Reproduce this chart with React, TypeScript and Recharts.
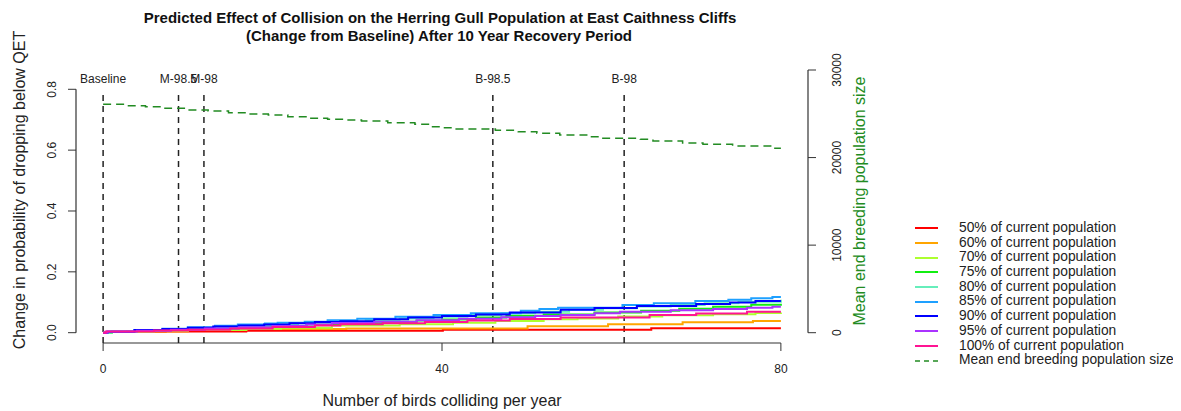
import React from 'react';
import { ComposedChart, Line, XAxis, YAxis, ReferenceLine, ReferenceDot } from 'recharts';

// ---- tick labels ----
const collisionTicks = [0, 40, 80];
const probTicks = [0, 0.2, 0.4, 0.6, 0.8];
const popTicks = [0, 10000, 20000, 30000];

// ---- threshold markers ----
const thresholdNames = ['Baseline', 'M-98.5', 'M-98', 'B-98.5', 'B-98'];
const thresholdValues = [0, 8.9, 11.9, 46, 61.5];

// ---- series (collisions per year, change in probability) ----
const seriesNames = [
  '50% of current population',
  '60% of current population',
  '70% of current population',
  '75% of current population',
  '80% of current population',
  '85% of current population',
  '90% of current population',
  '95% of current population',
  '100% of current population',
];
const seriesColors = ['#FF0000', '#FFA500', '#ADFF2F', '#11EE11', '#66EEBB', '#1EA0FF', '#0000FF', '#AA33FF', '#FF1493'];

const p50: [number, number][] = [[0, 0], [0.5, 0.002], [2.8, 0.0033], [7.4, 0.004], [16.9, 0.0066], [40.1, 0.0099], [64.7, 0.0145], [80, 0.0145]];
const p60: [number, number][] = [[0, 0], [0.5, 0.002], [4, 0.004], [10, 0.009], [16.9, 0.012], [28.7, 0.0135], [50.1, 0.021], [59.6, 0.0276], [68.4, 0.034], [76.7, 0.0385], [80, 0.0385]];
const p70: [number, number][] = [[0, 0], [1, 0.003], [6, 0.006], [10, 0.009], [16.9, 0.013], [21, 0.016], [27, 0.024], [35, 0.028], [41.3, 0.033], [46.3, 0.0385], [52, 0.044], [56, 0.047], [60.8, 0.053], [66, 0.057], [72, 0.061], [77, 0.065], [80, 0.066]];
const p75: [number, number][] = [[0, 0], [1, 0.003], [4, 0.006], [8, 0.01], [12, 0.014], [16, 0.018], [20, 0.022], [24, 0.027], [28, 0.031], [33, 0.036], [37, 0.04], [40, 0.043], [44, 0.05], [47.6, 0.056], [52, 0.06], [58, 0.066], [63.5, 0.072], [68, 0.079], [72, 0.085], [76.5, 0.092], [80, 0.095]];
const p80: [number, number][] = [[0, 0], [1, 0.003], [4, 0.007], [8, 0.011], [11, 0.015], [15, 0.02], [19, 0.025], [23, 0.031], [27, 0.036], [31, 0.041], [35, 0.047], [39, 0.052], [43, 0.058], [47, 0.064], [51, 0.069], [55, 0.075], [59, 0.08], [63, 0.086], [67, 0.091], [71, 0.097], [75, 0.102], [80, 0.108]];
const p85: [number, number][] = [[0, 0], [0.5, 0.003], [3.7, 0.009], [7, 0.013], [10, 0.018], [13.2, 0.023], [15.9, 0.027], [19.1, 0.03], [20.6, 0.033], [23.8, 0.036], [26.5, 0.041], [30, 0.046], [34.5, 0.052], [39, 0.058], [43.4, 0.064], [49.3, 0.072], [51.5, 0.078], [53.7, 0.082], [61.3, 0.091], [65, 0.097], [69.9, 0.104], [73.8, 0.108], [76.5, 0.113], [79, 0.117], [80, 0.117]];
const p90: [number, number][] = [[0, 0], [0.5, 0.003], [3.7, 0.009], [7, 0.012], [10, 0.016], [13, 0.02], [16, 0.024], [19, 0.027], [22, 0.031], [25, 0.035], [28, 0.038], [32, 0.044], [36, 0.05], [40, 0.055], [44, 0.06], [48, 0.066], [54, 0.075], [58, 0.081], [63, 0.088], [70, 0.094], [74, 0.099], [77, 0.104], [80, 0.104]];
const p95: [number, number][] = [[0, 0], [0.5, 0.004], [4, 0.006], [8, 0.01], [12, 0.014], [16, 0.018], [20, 0.022], [24, 0.027], [27, 0.032], [32, 0.036], [37, 0.041], [42, 0.046], [47, 0.051], [51, 0.055], [54, 0.058], [58, 0.064], [61, 0.069], [67, 0.074], [72, 0.078], [76, 0.082], [79, 0.085], [80, 0.085]];
const p100: [number, number][] = [[0, 0], [0.3, 0.004], [6, 0.007], [10, 0.01], [15, 0.014], [20, 0.019], [25, 0.024], [28, 0.028], [33, 0.031], [38, 0.035], [43, 0.04], [48, 0.045], [54, 0.05], [64.5, 0.058], [70, 0.063], [76, 0.069], [80, 0.069]];

// ---- mean end breeding population size ----
const popName = 'Mean end breeding population size';
const popColor = '#228B22';
const meanPopulation: [number, number][] = [[0, 26080], [2.6, 25920], [5, 25810], [7.3, 25620], [9.7, 25430], [12.4, 25320], [14.8, 25130], [17.1, 24970], [19.5, 24860], [21.8, 24670], [24.2, 24480], [26.5, 24370], [28.5, 24280], [30.5, 24180], [33.6, 23980], [36.8, 23800], [38.4, 23530], [40.1, 23410], [41.5, 23260], [46.3, 23110], [49, 22950], [51.2, 22770], [53.9, 22580], [57.5, 22380], [58.9, 22200], [63.4, 22090], [64.9, 21890], [68.4, 21660], [70.8, 21510], [74.3, 21320], [79, 21060], [80, 21060]];

const allSeries = [p50, p60, p70, p75, p80, p85, p90, p95, p100];

const toRows = (pts: [number, number][]) => pts.map(([x, y]) => ({ x, y }));

const FONT = '"Liberation Sans", Arial, sans-serif';
const AXIS = '#333333';

// axis/plot geometry (value domains)
const X_DOMAIN: [number, number] = [-3.2, 83.2];
const L_DOMAIN: [number, number] = [-0.0339, 0.8634];
const R_DOMAIN: [number, number] = [-1176, 30000];

const LeftTick = (props: any) => {
  const { x, y, payload } = props;
  return (
    <text x={x} y={y} transform={`rotate(-90, ${x}, ${y})`} textAnchor="middle" fontSize={12} fill="#222" fontFamily={FONT}>
      {Number(payload.value).toFixed(1)}
    </text>
  );
};

const RightTick = (props: any) => {
  const { x, y, payload } = props;
  return (
    <text x={x} y={y} transform={`rotate(-90, ${x}, ${y})`} textAnchor="middle" fontSize={12} fill="#222" fontFamily={FONT}>
      {String(payload.value)}
    </text>
  );
};

const W = 1165;
const H = 395;

export default function App() {
  return (
    <div style={{ position: 'relative', width: 1173, height: 403, fontFamily: FONT, background: '#fff' }}>
      <div style={{ position: 'absolute', left: 132, top: 1, width: 600, textAlign: 'center', fontWeight: 'bold', fontSize: 15, lineHeight: '18px', color: '#111' }}>
        Predicted Effect of Collision on the Herring Gull Population at East Caithness Cliffs
      </div>
      <div style={{ position: 'absolute', left: 131, top: 19, width: 600, textAlign: 'center', fontWeight: 'bold', fontSize: 15, lineHeight: '18px', color: '#111' }}>
        (Change from Baseline) After 10 Year Recovery Period
      </div>

      <ComposedChart width={W} height={H} margin={{ top: 62, right: 305, bottom: 20, left: 8 }}>
        <XAxis
          type="number"
          dataKey="x"
          domain={X_DOMAIN}
          ticks={collisionTicks}
          allowDataOverflow
          axisLine={false}
          tickLine={{ stroke: AXIS }}
          tickSize={8}
          tickMargin={13}
          height={40}
          tick={{ fontSize: 12, fill: '#222', fontFamily: FONT }}
        />
        <YAxis
          yAxisId="left"
          type="number"
          domain={L_DOMAIN}
          ticks={probTicks}
          allowDataOverflow
          axisLine={false}
          tickLine={{ stroke: AXIS }}
          tickSize={8}
          tickMargin={12}
          width={60}
          tick={<LeftTick />}
        />
        <YAxis
          yAxisId="right"
          orientation="right"
          type="number"
          domain={R_DOMAIN}
          ticks={popTicks}
          allowDataOverflow
          axisLine={false}
          tickLine={{ stroke: AXIS }}
          tickSize={8}
          tickMargin={25}
          width={60}
          tick={<RightTick />}
        />

        {/* axis lines spanning first to last tick */}
        <ReferenceLine yAxisId="left" segment={[{ x: collisionTicks[0], y: L_DOMAIN[0] }, { x: collisionTicks[collisionTicks.length - 1], y: L_DOMAIN[0] }]} stroke={AXIS} strokeWidth={1.2} ifOverflow="visible" />
        <ReferenceLine yAxisId="left" segment={[{ x: X_DOMAIN[0], y: probTicks[0] }, { x: X_DOMAIN[0], y: probTicks[probTicks.length - 1] }]} stroke={AXIS} strokeWidth={1.2} ifOverflow="visible" />
        <ReferenceLine yAxisId="right" segment={[{ x: X_DOMAIN[1], y: popTicks[0] }, { x: X_DOMAIN[1], y: popTicks[popTicks.length - 1] }]} stroke={AXIS} strokeWidth={1.2} ifOverflow="visible" />

        {thresholdValues.map((v, i) => (
          <ReferenceLine
            key={'t' + i}
            yAxisId="left"
            segment={[{ x: v, y: L_DOMAIN[0] }, { x: v, y: 0.79 }]}
            stroke="#222"
            strokeWidth={1.5}
            strokeDasharray="6 5"
            ifOverflow="visible"
          />
        ))}
        {thresholdValues.map((v, i) => (
          <ReferenceDot
            key={'tl' + i}
            yAxisId="left"
            x={v}
            y={0.835}
            r={0}
            fill="none"
            stroke="none"
            ifOverflow="visible"
            label={{ value: thresholdNames[i], position: 'center', fontSize: 12, fill: '#222', fontFamily: FONT }}
          />
        ))}

        <Line
          yAxisId="right"
          data={toRows(meanPopulation)}
          dataKey="y"
          type="stepAfter"
          stroke={popColor}
          strokeWidth={1.5}
          strokeDasharray="8 5"
          dot={false}
          isAnimationActive={false}
          name={popName}
        />
        {allSeries.map((s, i) => (
          <Line
            key={'s' + i}
            yAxisId="left"
            data={toRows(s)}
            dataKey="y"
            type="stepAfter"
            stroke={seriesColors[i]}
            strokeWidth={2}
            dot={false}
            isAnimationActive={false}
            name={seriesNames[i]}
          />
        ))}
      </ComposedChart>

      {/* axis titles */}
      <div style={{ position: 'absolute', left: 434 - 250, top: 384, width: 500, textAlign: 'center', fontSize: 16, lineHeight: '18px', color: '#222' }}>
        Number of birds colliding per year
      </div>
      <div style={{ position: 'absolute', left: 12 - 200, top: 182 - 10, width: 400, height: 20, textAlign: 'center', fontSize: 16, lineHeight: '20px', color: '#222', transform: 'rotate(-90deg)' }}>
        Change in probability of dropping below QET
      </div>
      <div style={{ position: 'absolute', left: 852 - 200, top: 193 - 10, width: 400, height: 20, textAlign: 'center', fontSize: 16, lineHeight: '20px', color: popColor, transform: 'rotate(-90deg)' }}>
        {popName}
      </div>

      {/* legend */}
      <div style={{ position: 'absolute', left: 907, top: 213, fontSize: 13.8, color: '#222' }}>
        {seriesNames.map((n, i) => (
          <div key={n} style={{ display: 'flex', alignItems: 'center', height: 14.7, whiteSpace: 'nowrap' }}>
            <svg width={44} height={10}>
              <line x1={0} y1={5} x2={23} y2={5} stroke={seriesColors[i]} strokeWidth={2} />
            </svg>
            <span style={{ lineHeight: '14.7px' }}>{n}</span>
          </div>
        ))}
        <div style={{ display: 'flex', alignItems: 'center', height: 14.7, whiteSpace: 'nowrap' }}>
          <svg width={44} height={10}>
            <line x1={0} y1={5} x2={23} y2={5} stroke={popColor} strokeWidth={1.5} strokeDasharray="5 4" />
          </svg>
          <span style={{ lineHeight: '14.7px' }}>{popName}</span>
        </div>
      </div>
    </div>
  );
}
